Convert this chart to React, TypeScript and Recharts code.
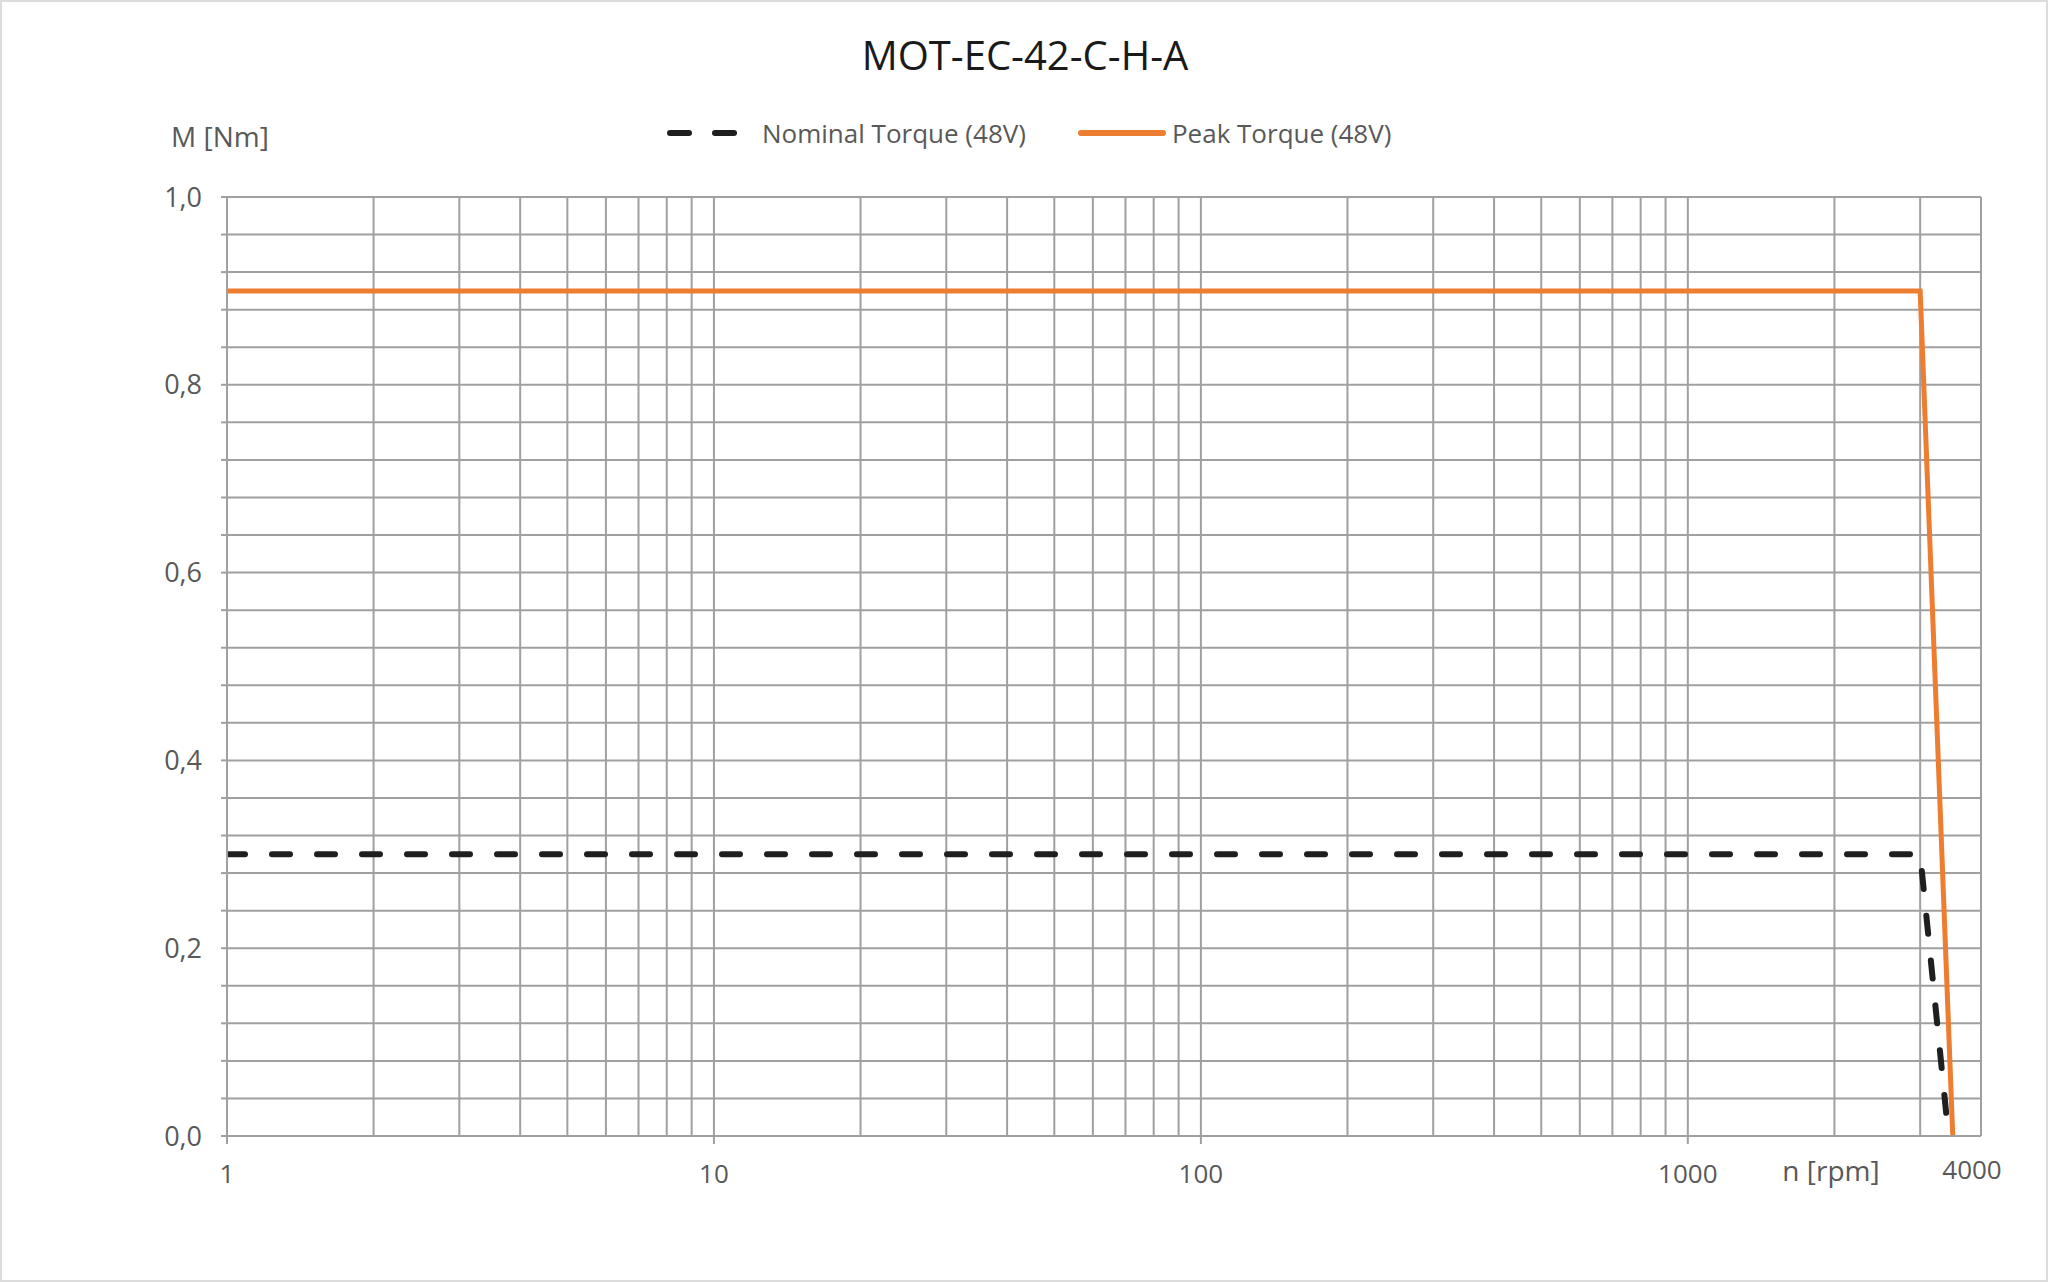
import React from 'react'
import { LineChart, Line, XAxis, YAxis, CartesianGrid, Legend } from 'recharts'

// speed n [rpm] and torque M [Nm]
const nominalSpeed: number[] = [1, 3000, 3430]
const nominalTorque: number[] = [0.3, 0.3, 0]
const peakSpeed: number[] = [1, 3000, 3500]
const peakTorque: number[] = [0.9, 0.9, 0]

const seriesNames: string[] = ['Nominal Torque (48V)', 'Peak Torque (48V)']
const seriesColors: string[] = ['#1f1f1f', '#ED7D31']

// log grid 1..4000, labels only at decades and the end
const xTicks: number[] = [
    1, 2, 3, 4, 5, 6, 7, 8, 9,
    10, 20, 30, 40, 50, 60, 70, 80, 90,
    100, 200, 300, 400, 500, 600, 700, 800, 900,
    1000, 2000, 3000, 4000,
]
const xLabels: number[] = [1, 10, 100, 1000, 4000]
const yTicks: number[] = [
    0, 0.04, 0.08, 0.12, 0.16, 0.2, 0.24, 0.28, 0.32, 0.36, 0.4, 0.44, 0.48,
    0.52, 0.56, 0.6, 0.64, 0.68, 0.72, 0.76, 0.8, 0.84, 0.88, 0.92, 0.96, 1,
]

const nominalData = nominalSpeed.map((n, i) => ({ n, m: nominalTorque[i] }))
const peakData = peakSpeed.map((n, i) => ({ n, m: peakTorque[i] }))

const font = '"Open Sans", sans-serif'
const gray = '#595959'
const gridGray = '#a0a0a0'

function XTick(props: any) {
    const { x, y, payload } = props
    const v = payload.value
    if (!xLabels.includes(v)) return null
    const last = v === xLabels[xLabels.length - 1]
    return (
        <g>
            {!last && <line x1={x} y1={y} x2={x} y2={y + 8} stroke={gridGray} strokeWidth={2} />}
            <text x={last ? x - 9 : x} y={last ? y + 43 : y + 47} textAnchor="middle"
                fill={gray} fontSize={26} fontFamily={font}>{v}</text>
        </g>
    )
}

function LegendBox() {
    return (
        <div style={{ display: 'flex', alignItems: 'center', paddingLeft: 667, fontFamily: font, fontSize: 26, color: gray, height: 36 }}>
            <svg width={72} height={12}>
                <line x1={3} y1={6} x2={72} y2={6} stroke={seriesColors[0]} strokeWidth={6}
                    strokeDasharray="19 26" strokeLinecap="round" />
            </svg>
            <span style={{ marginLeft: 23 }}>{seriesNames[0]}</span>
            <svg width={88} height={12} style={{ marginLeft: 52 }}>
                <line x1={3} y1={6} x2={85} y2={6} stroke={seriesColors[1]} strokeWidth={6} strokeLinecap="round" />
            </svg>
            <span style={{ marginLeft: 6 }}>{seriesNames[1]}</span>
        </div>
    )
}

export default function App() {
    return (
        <div style={{ position: 'absolute', left: 0, top: 0, width: 2048, height: 1282, background: '#fff', boxSizing: 'border-box', border: '2px solid #dcdcdc' }}>
            <style>{'body{margin:0}'}</style>
            <div style={{ position: 'absolute', left: -2, top: -2 }}>
                <LineChart width={2048} height={1282} margin={{ top: 197, right: 67, bottom: 0, left: 0 }}>
                    <CartesianGrid stroke={gridGray} strokeWidth={2} />
                    <XAxis dataKey="n" type="number" scale="log" domain={[1, 4000]} ticks={xTicks}
                        interval={0} allowDataOverflow height={146} tickLine={false} tickSize={0} tickMargin={0}
                        axisLine={{ stroke: gridGray, strokeWidth: 2 }} tick={<XTick />} />
                    <YAxis type="number" domain={[0, 1]} ticks={yTicks} interval={0} width={227}
                        tickSize={6} tickMargin={19}
                        tickLine={{ stroke: gridGray, strokeWidth: 2 }}
                        axisLine={{ stroke: gridGray, strokeWidth: 2 }}
                        tick={{ fill: gray, fontSize: 27, fontFamily: font }}
                        tickFormatter={(v: number) => Math.abs(v * 5 - Math.round(v * 5)) < 1e-6 ? v.toFixed(1).replace('.', ',') : ''} />
                    <Legend layout="horizontal" verticalAlign="middle" align="center"
                        wrapperStyle={{ top: 115, left: 0, width: 2048 }} content={<LegendBox />} />
                    <Line data={nominalData} dataKey="m" name={seriesNames[0]} type="linear"
                        stroke={seriesColors[0]} strokeWidth={6} strokeDasharray="18 27" strokeLinecap="round"
                        dot={false} activeDot={false} isAnimationActive={false} />
                    <Line data={peakData} dataKey="m" name={seriesNames[1]} type="linear"
                        stroke={seriesColors[1]} strokeWidth={5} dot={false} activeDot={false} isAnimationActive={false} />
                    <text x={1025} y={70} textAnchor="middle" fontSize={40} fill="#1a1a1a" fontFamily={font}>MOT-EC-42-C-H-A</text>
                    <text x={220} y={147} textAnchor="middle" fontSize={28} fill={gray} fontFamily={font}>M [Nm]</text>
                    <text x={1831} y={1181} textAnchor="middle" fontSize={28} fill={gray} fontFamily={font}>n [rpm]</text>
                </LineChart>
            </div>
        </div>
    )
}
